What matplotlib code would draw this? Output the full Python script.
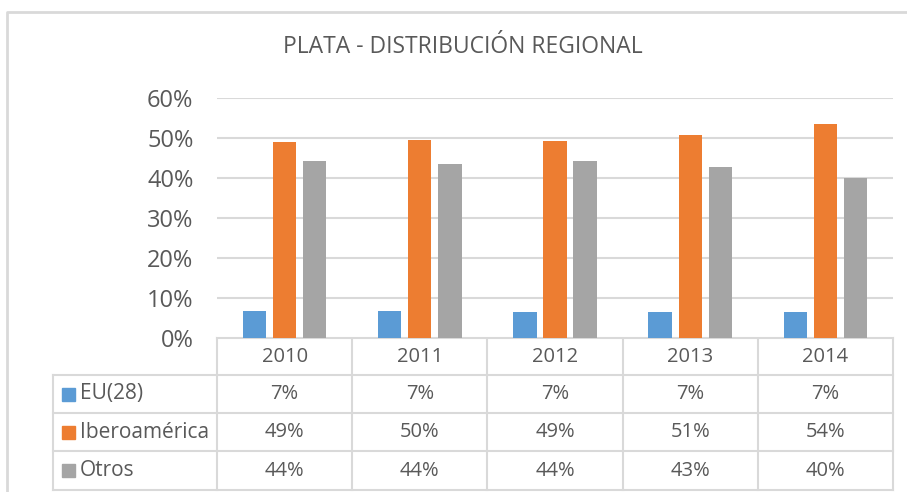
import matplotlib.pyplot as plt
from matplotlib.ticker import FuncFormatter
import numpy as np

plt.rcParams['font.family'] = ['Open Sans', 'DejaVu Sans']

years = ['2010', '2011', '2012', '2013', '2014']
series = ['EU(28)', 'Iberoamérica', 'Otros']
eu = [0.068, 0.068, 0.066, 0.066, 0.066]
ibero = [0.489, 0.495, 0.492, 0.508, 0.535]
otros = [0.442, 0.435, 0.442, 0.427, 0.400]
colors = ['#5B9BD5', '#ED7D31', '#A5A5A5']
txt = '#595959'
grid = '#D9D9D9'

W, H = 907, 492
fig = plt.figure(figsize=(W / 100, H / 100), dpi=100)

# pixel layout of the plot area
x0, x1 = 217, 893
ytop, ybot = 98, 338
ax = fig.add_axes([x0 / W, 1 - ybot / H, (x1 - x0) / W, (ybot - ytop) / H])

x = np.arange(len(years))
bw = 0.173
step = 0.222
for k, vals in enumerate([eu, ibero, otros]):
    ax.bar(x + (k - 1) * step, vals, width=bw, color=colors[k], zorder=3)

ax.set_xlim(-0.5, len(years) - 0.5)
ax.set_ylim(0, 0.6)
ax.set_yticks(np.arange(0, 0.61, 0.1))
ax.yaxis.set_major_formatter(FuncFormatter(lambda v, p: '%d%%' % round(v * 100)))
ax.tick_params(axis='y', length=0, pad=17, labelsize=17, labelcolor=txt)
ax.set_xticks([])
ax.grid(axis='y', color=grid, linewidth=1.5, zorder=0)
for s in ax.spines.values():
    s.set_visible(False)

# overlay in pixel coordinates for title, border and data table
ov = fig.add_axes([0, 0, 1, 1], zorder=-1)
ov.set_xlim(0, W)
ov.set_ylim(H, 0)
ov.axis('off')
ov.plot([7, 7, W + 5], [H + 5, 12, 12], color=grid, linewidth=2)
ov.text(463, 47, 'PLATA - DISTRIBUCIÓN REGIONAL', ha='center', va='center',
        fontsize=16.5, color=txt)

colw = (x1 - x0) / len(years)
rows = [338, 375, 413, 451, 490]
lx = 53
lw = 1.5
# horizontal lines
ov.plot([x0, x1], [rows[0], rows[0]], color=grid, linewidth=lw)
for r in rows[1:]:
    ov.plot([lx, x1], [r, r], color=grid, linewidth=lw)
# vertical lines
ov.plot([lx, lx], [rows[1], rows[-1]], color=grid, linewidth=lw)
for i in range(len(years) + 1):
    xx = x0 + i * colw
    ov.plot([xx, xx], [rows[0], rows[-1]], color=grid, linewidth=lw)

for i, yr in enumerate(years):
    cx = x0 + (i + 0.5) * colw
    ov.text(cx, (rows[0] + rows[1]) / 2, yr, ha='center', va='center',
            fontsize=14.5, color=txt)
    for k, vals in enumerate([eu, ibero, otros]):
        cy = (rows[k + 1] + rows[k + 2]) / 2
        ov.text(cx, cy, '%d%%' % round(vals[i] * 100), ha='center', va='center',
                fontsize=14.5, color=txt)

for k, name in enumerate(series):
    cy = (rows[k + 1] + rows[k + 2]) / 2
    ov.add_patch(plt.Rectangle((62, cy - 6.5), 13, 13, color=colors[k]))
    ov.text(80, cy, name, ha='left', va='center', fontsize=15, color=txt)

fig.savefig('out.png', dpi=100)
